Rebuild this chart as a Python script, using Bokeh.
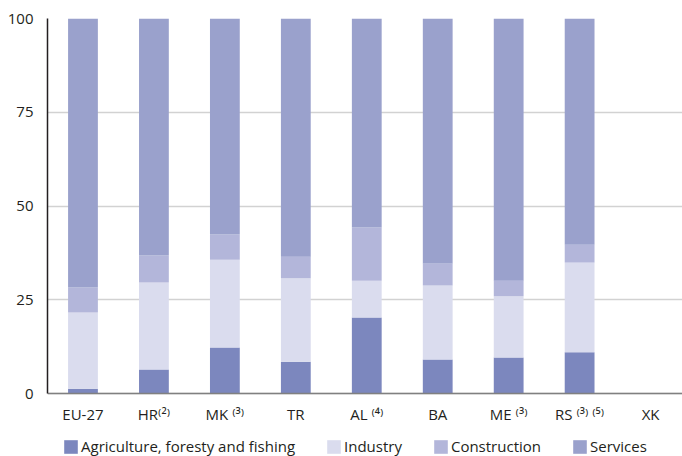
from bokeh.plotting import figure
from bokeh.models import ColumnDataSource, FixedTicker, Range1d, Legend, LegendItem
from bokeh.embed import file_html
from bokeh.resources import INLINE

categories = ["EU-27", "HR\u207d\u00b2\u207e", "MK \u207d\u00b3\u207e", "TR", "AL \u207d\u2074\u207e",
              "BA", "ME \u207d\u00b3\u207e", "RS \u207d\u00b3\u207e \u207d\u2075\u207e", "XK"]
agriculture = [1.3, 6.4, 12.3, 8.5, 20.3, 9.1, 9.6, 11.0, 0]
industry = [20.3, 23.2, 23.4, 22.2, 9.8, 19.7, 16.3, 23.9, 0]
construction = [6.7, 7.2, 6.7, 5.8, 14.2, 5.9, 4.2, 4.8, 0]
services = [71.7, 63.2, 57.6, 63.5, 55.7, 65.3, 69.9, 60.3, 0]
series_names = ["Agriculture, foresty and fishing", "Industry", "Construction", "Services"]
y_ticks = [0, 25, 50, 75, 100]

keys = ["agriculture", "industry", "construction", "services"]
colors = ["#7c87be", "#dadcee", "#b3b6da", "#9aa1cc"]

pos = list(range(len(categories)))
source = ColumnDataSource(dict(x=pos, agriculture=agriculture, industry=industry,
                               construction=construction, services=services))

FONT = "Open Sans"
TXT = "#231f20"

# frame extends below zero so the legend can live inside it (bottom strip)
p = figure(frame_width=635, frame_height=438, output_backend="svg", toolbar_location=None,
           x_range=Range1d(-0.5, 8.45), y_range=Range1d(-16.8, 100),
           min_border_left=47, min_border_right=0, min_border_top=18, min_border_bottom=0)

renderers = p.vbar_stack(keys, x="x", width=0.42, color=colors, line_color=None, source=source)

p.outline_line_color = None
p.xgrid.grid_line_color = None
p.ygrid.grid_line_color = "#d2d2d2"
p.ygrid.grid_line_width = 1.5
p.ygrid.ticker = FixedTicker(ticks=y_ticks)

p.yaxis.ticker = FixedTicker(ticks=y_ticks)
p.yaxis.bounds = (0, 100)
p.xaxis.ticker = FixedTicker(ticks=pos)
p.xaxis.fixed_location = 0
p.xaxis.major_label_overrides = {i: c for i, c in enumerate(categories)}

for ax in (p.xaxis, p.yaxis):
    ax.major_tick_line_color = None
    ax.minor_tick_line_color = None
    ax.major_label_text_font = FONT
    ax.major_label_text_font_size = "15px"
    ax.major_label_text_color = TXT
p.yaxis.axis_line_color = "#231f20"
p.yaxis.axis_line_width = 1.5
p.yaxis.major_label_standoff = 8
p.xaxis.axis_line_color = "#808080"
p.xaxis.axis_line_width = 1.5
p.xaxis.major_label_standoff = 4

items = [LegendItem(label=n, renderers=[r]) for n, r in zip(series_names, renderers)]
legend = Legend(items=items, orientation="horizontal", location=(15, 0),
                glyph_width=17, glyph_height=17, label_standoff=2, spacing=30,
                padding=0, margin=0, border_line_color=None, background_fill_alpha=0,
                label_text_font=FONT, label_text_font_size="15px", label_text_color=TXT,
                label_height=17)
p.add_layout(legend, "center")

open("out.html", "w").write(file_html(p, INLINE))
